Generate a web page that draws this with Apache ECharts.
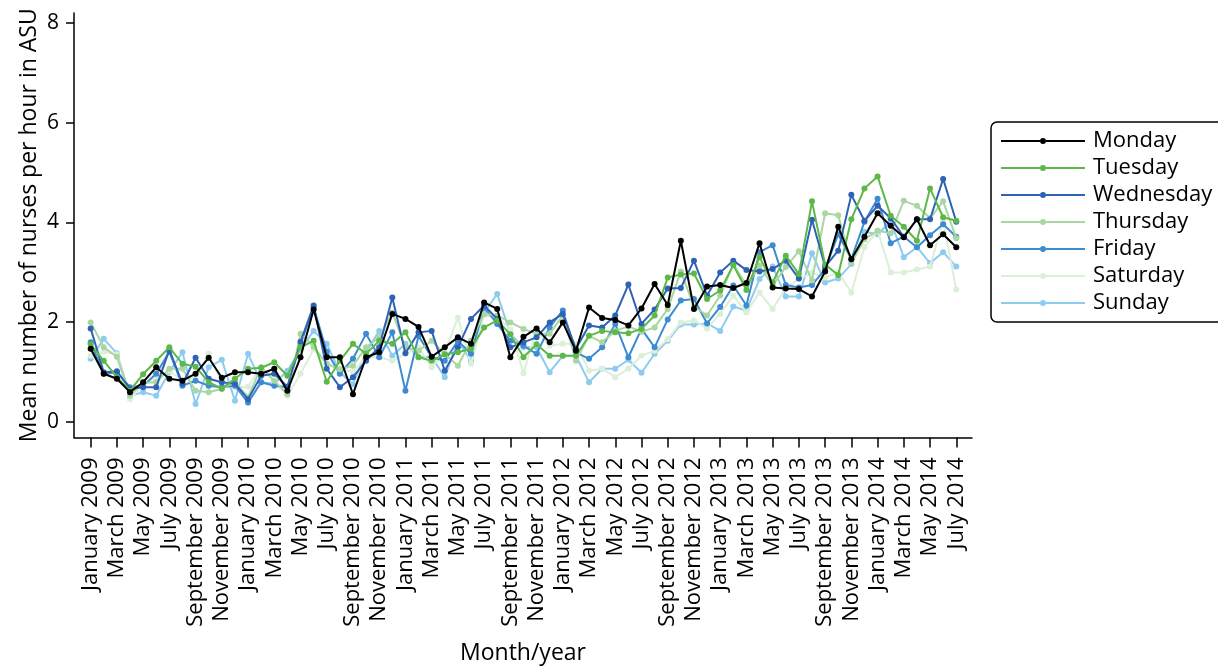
<!DOCTYPE html>
<html><head><meta charset="utf-8">
<script src="https://cdn.jsdelivr.net/npm/echarts@6/dist/echarts.min.js"></script>
<style>html,body{margin:0;padding:0;background:#fff}#c{width:1218px;height:671px}</style>
</head><body><div id="c"></div>
<script>
var monthNames = ['January','February','March','April','May','June','July','August','September','October','November','December'];
var months = [];
for (var y = 2009; y <= 2014; y++) for (var m = 0; m < 12; m++) { if (y === 2014 && m > 6) break; months.push(monthNames[m] + ' ' + y); }
var tickIdx = [0,2,4,6,8,10,12,14,16,18,20,22,24,26,28,30,32,34,36,38,40,42,44,46,48,50,52,54,56,58,60,62,64,66];
var yTicks = [0,2,4,6,8];

var seriesNames = ['Monday','Tuesday','Wednesday','Thursday','Friday','Saturday','Sunday'];
var monday = [1.46,0.96,0.86,0.59,0.79,1.09,0.86,0.82,0.96,1.28,0.88,0.99,0.99,0.96,1.06,0.62,1.29,2.25,1.29,1.29,0.55,1.29,1.39,2.16,2.06,1.90,1.30,1.49,1.69,1.56,2.39,2.26,1.29,1.70,1.87,1.59,1.99,1.42,2.29,2.08,2.04,1.93,2.27,2.76,2.34,3.63,2.26,2.71,2.74,2.68,2.78,3.58,2.69,2.67,2.66,2.51,3.01,3.91,3.26,3.71,4.18,3.93,3.70,4.06,3.54,3.76,3.50];
var tuesday = [1.55,1.22,0.89,0.62,0.95,1.22,1.49,1.16,1.10,0.79,0.66,0.86,1.06,1.08,1.19,0.92,1.49,1.62,0.80,1.22,1.56,1.36,1.62,1.56,1.79,1.29,1.22,1.35,1.39,1.46,1.89,2.03,1.75,1.29,1.55,1.32,1.32,1.32,1.72,1.82,1.79,1.77,1.86,2.13,2.89,2.95,2.97,2.46,2.63,3.14,2.64,3.30,2.79,3.33,2.96,4.42,3.15,2.94,4.06,4.68,4.92,4.13,3.91,3.63,4.68,4.10,4.03];
var wednesday = [1.87,0.99,1.01,0.66,0.69,0.69,1.44,0.76,1.28,0.86,0.79,0.76,0.45,0.92,0.96,0.70,1.60,2.33,1.06,0.69,0.89,1.22,1.49,2.49,1.37,1.79,1.82,1.02,1.49,2.06,2.33,2.06,1.49,1.59,1.69,1.99,2.16,1.46,1.93,1.89,2.13,2.75,1.96,2.25,2.67,2.68,3.23,2.53,2.99,3.23,3.04,3.01,3.06,3.23,2.87,4.05,3.11,3.43,4.55,4.03,4.33,4.08,3.71,4.06,4.06,4.87,4.01];
var thursday = [1.99,1.49,1.30,0.52,0.78,0.79,1.06,1.06,0.62,0.59,0.66,0.80,0.49,1.09,0.82,0.55,1.76,1.50,1.16,1.05,1.12,1.49,1.69,2.19,1.49,1.42,1.62,1.35,1.12,1.62,2.16,2.13,1.99,1.86,1.76,1.76,2.13,1.22,1.72,1.59,1.82,1.91,1.80,1.89,2.26,3.01,2.31,2.13,2.53,3.16,2.73,3.13,2.73,3.10,3.42,2.83,4.18,4.14,3.18,3.66,3.83,3.78,4.43,4.33,4.08,4.42,3.68];
var friday = [1.59,0.96,0.99,0.69,0.72,0.96,1.40,0.72,0.82,0.72,0.69,0.72,0.38,0.79,0.72,0.69,1.55,2.30,1.40,0.96,1.26,1.76,1.29,1.79,0.62,1.72,1.29,1.22,1.62,1.36,2.29,1.96,1.62,1.52,1.36,1.89,2.23,1.39,1.26,1.49,1.96,1.29,1.86,1.49,2.05,2.43,2.46,1.97,2.30,2.73,2.33,3.40,3.54,2.74,2.69,2.74,3.06,3.76,3.26,4.01,4.47,3.58,3.71,3.50,3.74,3.96,3.71];
var saturday = [1.32,1.40,1.35,0.45,0.75,0.86,1.02,0.82,0.89,1.36,0.76,0.69,0.70,1.09,0.79,0.52,0.96,1.45,1.16,1.05,1.00,1.30,1.29,1.22,1.36,1.49,1.09,1.39,2.09,1.16,2.13,2.10,1.85,0.97,1.86,1.52,1.56,1.56,1.02,1.06,0.89,1.06,1.32,1.42,1.65,1.99,2.03,1.87,2.16,2.53,2.19,2.59,2.26,2.68,2.86,2.99,2.89,2.99,2.59,3.50,3.83,2.99,2.99,3.05,3.11,4.03,2.65];
var sunday = [1.26,1.66,1.37,0.52,0.59,0.52,1.00,1.39,0.35,1.09,1.24,0.42,1.36,0.79,0.76,1.02,1.45,1.82,1.56,0.99,0.75,1.39,1.82,1.32,1.56,1.29,1.30,0.89,1.62,1.22,2.19,2.56,1.76,1.49,1.49,0.99,1.32,1.32,0.79,1.06,1.06,1.24,0.98,1.36,1.62,1.95,1.95,1.97,1.82,2.31,2.23,2.86,3.11,2.51,2.51,3.38,2.79,2.87,3.16,3.81,3.76,4.02,3.30,3.50,3.18,3.40,3.11];
var colors = ['#000000','#5cb848','#2e62b6','#a9d6a1','#3d8bd0','#dcefd8','#8dcbf0'];
var allData = [monday,tuesday,wednesday,thursday,friday,saturday,sunday];

var FONT = 'Open Sans';
var series = seriesNames.map(function(n, k){
  return {
    name: n, type: 'line', data: allData[k].map(function(v,i){return [i,v];}),
    symbol: 'circle', symbolSize: 6, showSymbol: true,
    lineStyle: {width: 2, color: colors[k]}, itemStyle: {color: colors[k]},
    z: 10 - k, animation: false
  };
});

var chart = echarts.init(document.getElementById('c'));
chart.setOption({
  animation: false,
  textStyle: {fontFamily: FONT, color: '#000'},
  grid: {left: 74, right: 246, top: 13, bottom: 233.5, containLabel: false, outerBoundsMode: 'none'},
  legend: {
    left: 991, top: 122, orient: 'vertical',
    data: seriesNames,
    itemWidth: 84, itemHeight: 14, itemGap: 5,
    padding: [8, 12, 8, 10],
    borderColor: '#000', borderWidth: 1.5, borderRadius: 6,
    textStyle: {fontFamily: FONT, fontSize: 22, color: '#000', padding: [0,0,0,3]},
    icon: 'path://M0,6L39,6L39,8L0,8Z M45,6L84,6L84,8L45,8Z M39,7A3,3 0 1 1 45,7A3,3 0 1 1 39,7Z'
  },
  xAxis: {
    type: 'value', min: -1.27, max: 67.2,
    name: 'Month/year', nameLocation: 'middle', nameGap: 203, nameMoveOverlap: false,
    nameTextStyle: {fontFamily: FONT, fontSize: 23, color: '#000', verticalAlign: 'top', lineHeight: 26},
    splitLine: {show: false},
    axisLine: {show: true, onZero: false, lineStyle: {color: '#000', width: 1.5}},
    axisTick: {show: true, customValues: tickIdx, length: 10, lineStyle: {color: '#000', width: 1.5}},
    axisLabel: {customValues: tickIdx, rotate: 90, fontSize: 22, color: '#000', fontFamily: FONT, margin: 20,
      formatter: function(v){ return months[Math.round(v)] || ''; }}
  },
  yAxis: {
    type: 'value', min: -0.32, max: 8.2,
    name: 'Mean number of nurses per hour in ASU', nameLocation: 'middle', nameGap: 33, nameRotate: 90, nameMoveOverlap: false,
    nameTextStyle: {fontFamily: FONT, fontSize: 23, color: '#000'},
    splitLine: {show: false},
    axisLine: {show: true, onZero: false, lineStyle: {color: '#000', width: 1.5}},
    axisTick: {show: true, customValues: yTicks, length: 8, lineStyle: {color: '#000', width: 1.5}},
    axisLabel: {customValues: yTicks, fontSize: 21, color: '#000', fontFamily: FONT, margin: 15}
  },
  series: series
});
</script></body></html>
